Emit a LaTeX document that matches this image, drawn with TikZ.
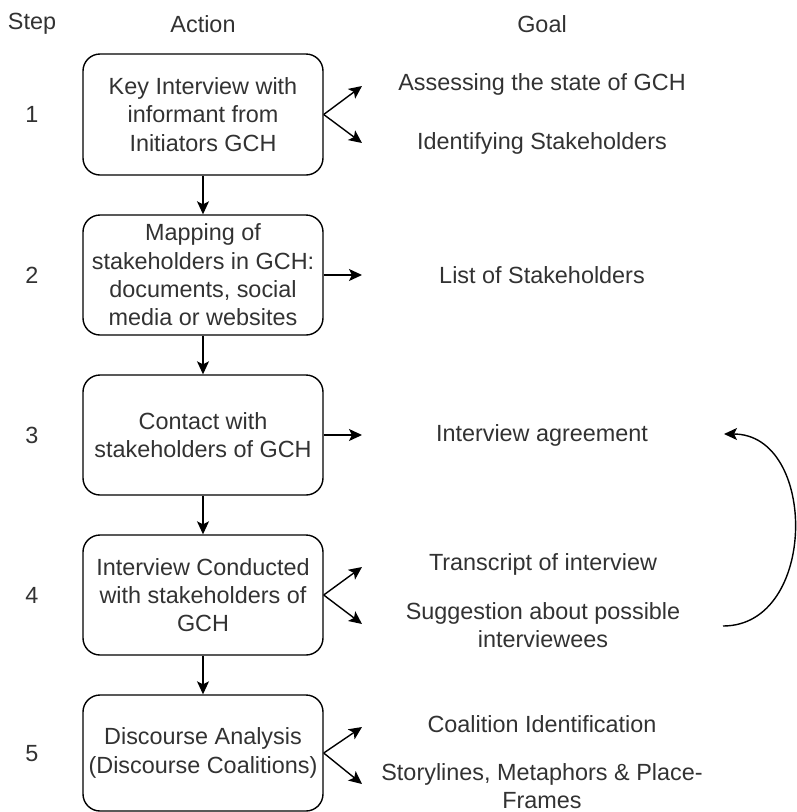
\documentclass[tikz,border=0pt]{standalone}
\usepackage{fontspec}
\setmainfont{Liberation Sans}
\usetikzlibrary{arrows.meta}
\definecolor{txt}{RGB}{50,50,50}
\begin{document}
\begin{tikzpicture}[x=1pt,y=-1pt,
  every node/.style={font=\fontsize{23.4}{28.3}\selectfont, text=txt, align=center, inner sep=0pt},
  actbox/.style={draw=black, line width=1.4pt, rounded corners=17pt, minimum width=240pt},
  arr/.style={draw=black, line width=1.4pt, -{Stealth[length=13pt,width=12pt,inset=3pt]}},
  lbl/.style={anchor=center}]
\useasboundingbox (0,0) rectangle (797,812);
% headers
\node (hstep) at (32,24) {Step};
\node (hact) at (203,24) {Action};
\node (hgoal) at (542,24) {Goal};
% step numbers
\node (s1) at (32,114) {1};
\node (s2) at (32,275) {2};
\node (s3) at (32,435) {3};
\node (s4) at (32,595) {4};
\node (s5) at (32,754) {5};
% action boxes
\node[actbox, minimum height=121pt] (b1) at (203,114.5) {Key Interview with\\informant from\\Initiators GCH};
\node[actbox, minimum height=120pt] (b2) at (203,275) {Mapping of\\stakeholders in GCH:\\documents, social\\media or websites};
\node[actbox, minimum height=120pt] (b3) at (203,435) {Contact with\\stakeholders of GCH};
\node[actbox, minimum height=120pt] (b4) at (203,595) {Interview Conducted\\with stakeholders of\\GCH};
\node[actbox, minimum height=116pt] (b5) at (203,753) {Discourse Analysis\\(Discourse Coalitions)};
% goals
\node (g1a) at (542,84) {Assessing the state of GCH};
\node (g1b) at (542,143) {Identifying Stakeholders};
\node (g2) at (542,275) {List of Stakeholders};
\node (g3) at (542,435) {Interview agreement};
\node (g4a) at (543,564) {Transcript of interview};
\node (g4b) at (543,625) {Suggestion about possible\\interviewees};
\node (g5a) at (542,724) {Coalition Identification};
\node (g5b) at (542,786) {Storylines, Metaphors \& Place-\\Frames};
% arrow end points
\coordinate (e1a) at (362,86);
\coordinate (e1b) at (362,143);
\coordinate (e2) at (362,275);
\coordinate (e3) at (362,435);
\coordinate (e4a) at (362,567);
\coordinate (e4b) at (362,624);
\coordinate (e5a) at (362,727);
\coordinate (e5b) at (362,784);
\coordinate (cs) at (723,626);
\coordinate (ce) at (724,434);
% vertical flow
\draw[arr] (b1.south) -- (b2.north);
\draw[arr] (b2.south) -- (b3.north);
\draw[arr] (b3.south) -- (b4.north);
\draw[arr] (b4.south) -- (b5.north);
% goal arrows
\draw[arr] (b1.east) -- (e1a);
\draw[arr] (b1.east) -- (e1b);
\draw[arr] (b2.east) -- (e2);
\draw[arr] (b3.east) -- (e3);
\draw[arr] (b4.east) -- (e4a);
\draw[arr] (b4.east) -- (e4b);
\draw[arr] (b5.east) -- (e5a);
\draw[arr] (b5.east) -- (e5b);
% feedback curve
\draw[arr] (cs) .. controls (818,626) and (818,434) .. (ce);
\end{tikzpicture}
\end{document}
